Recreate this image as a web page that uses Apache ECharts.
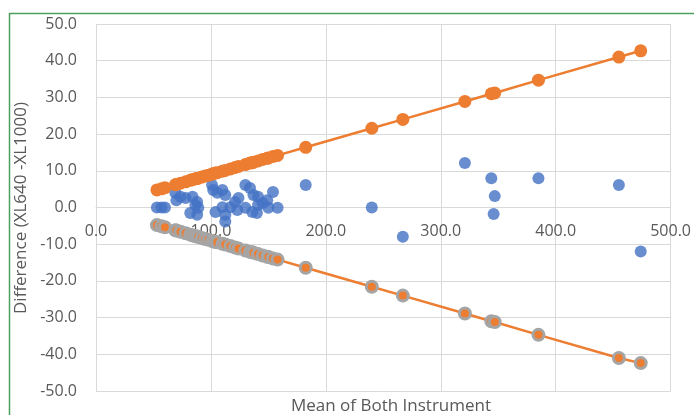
<!DOCTYPE html>
<html>
<head>
<meta charset="utf-8">
<style>html,body{margin:0;padding:0;background:#fff;}#c{width:694px;height:415px;}</style>
<script src="https://cdn.jsdelivr.net/npm/echarts@6/dist/echarts.min.js"></script>
</head>
<body>
<div id="c"></div>
<script>
// Blue points: mean of both instruments and difference
const diffMean = [53,57,60,69,70,73.5,78,82,84,86.5,88,88,89,101,102,104,105.5,110,110,112.5,112.5,112.5,117,121,123,124,130,130,134,136,137,140,141,141,145,149,150,154,158,182.5,240,267,321,344,347,346,385,455,474];
const diffValue = [0,0,0,4.0,2.0,2.9,2.6,-1.5,2.9,0.7,1.5,-2.0,-0.1,6.1,4.8,-1.2,4.0,4.8,0.1,3.4,-2.0,-3.8,0.1,1.5,-0.7,2.6,6.1,-0.1,5.3,-1.2,3.4,-1.5,2.9,0.7,1.2,2.0,-0.1,4.2,-0.1,6.1,0,-8,12.1,8,3.1,-1.8,8,6.1,-12];
// Limit lines
const limitMean = [53,57,60,69,70,73.5,78,82,84,86.5,88,89,92,95,98,101,102,104,105.5,110,112.5,117,121,124,130,134,136,137,141,145,149,150,154,158,182.5,240,267,321,344,347,385,455,474];
const upperLimit = [4.8,5.1,5.4,6.2,6.3,6.6,7.0,7.4,7.6,7.8,7.9,8.0,8.3,8.6,8.8,9.1,9.2,9.4,9.5,9.9,10.1,10.5,10.9,11.2,11.7,12.1,12.2,12.3,12.7,13.1,13.4,13.5,13.9,14.2,16.4,21.6,24.0,28.9,31.0,31.2,34.7,41.0,42.7];
const lowerLimit = [-4.8,-5.1,-5.4,-6.2,-6.3,-6.6,-7.0,-7.4,-7.6,-7.8,-7.9,-8.0,-8.3,-8.6,-8.8,-9.1,-9.2,-9.4,-9.5,-9.9,-10.1,-10.5,-10.9,-11.2,-11.7,-12.1,-12.2,-12.3,-12.7,-13.1,-13.4,-13.5,-13.9,-14.2,-16.4,-21.6,-24.0,-28.9,-31.0,-31.2,-34.7,-41.0,-42.4];
const xTitle = 'Mean of Both Instrument';
const yTitle = 'Difference (XL640 -XL1000)';

const FONT = '"Open Sans", sans-serif';
const pair = (xs, ys) => xs.map((x, i) => [x, ys[i]]);

const chart = echarts.init(document.getElementById('c'), null, {renderer: 'canvas'});
chart.setOption({
  animation: false,
  backgroundColor: '#ffffff',
  grid: {left: 96, right: 21, top: 24, bottom: 24},
  xAxis: {
    type: 'value', min: 0, max: 500, interval: 100,
    position: 'bottom',
    offset: -183.5,
    axisLine: {show: true, onZero: false, lineStyle: {color: '#D9D9D9', width: 1}},
    axisTick: {show: false},
    axisLabel: {color: '#595959', fontSize: 16, fontFamily: FONT, margin: 16, formatter: v => v.toFixed(1)},
    splitLine: {show: true, lineStyle: {color: '#D9D9D9', width: 1}}
  },
  yAxis: {
    type: 'value', min: -50, max: 50, interval: 10,
    axisLine: {show: false},
    axisTick: {show: false},
    axisLabel: {color: '#595959', fontSize: 16, fontFamily: FONT, margin: 19, formatter: v => v.toFixed(1)},
    splitLine: {show: true, lineStyle: {color: '#D9D9D9', width: 1}}
  },
  series: [
    {
      type: 'scatter', data: pair(diffMean, diffValue),
      symbol: 'circle', symbolSize: 12,
      itemStyle: {color: '#4472C4'}, z: 2
    },
    {
      type: 'line', data: pair(limitMean, upperLimit),
      symbol: 'circle', symbolSize: 13, showSymbol: true,
      lineStyle: {color: '#ED7D31', width: 2.5},
      itemStyle: {color: '#ED7D31', borderWidth: 0}, z: 3
    },
    {
      type: 'line', data: pair(limitMean, lowerLimit),
      symbol: 'circle', symbolSize: 11, showSymbol: true,
      lineStyle: {color: '#ED7D31', width: 2.5},
      itemStyle: {color: '#ED7D31', borderColor: '#A5A5A5', borderWidth: 3}, z: 3
    }
  ],
  graphic: [
    {type: 'rect', shape: {x: 9.5, y: 13.5, width: 720, height: 430}, style: {fill: null, stroke: '#4E9F5C', lineWidth: 1.5}, silent: true, z: 100},
    {type: 'text', x: 391, y: 406, style: {text: xTitle, font: '17px ' + FONT, fill: '#595959', textAlign: 'center', textVerticalAlign: 'middle'}},
    {type: 'text', x: 21, y: 208, rotation: Math.PI / 2, style: {text: yTitle, font: '17px ' + FONT, fill: '#595959', textAlign: 'center', textVerticalAlign: 'middle'}}
  ]
});
</script>
</body>
</html>
